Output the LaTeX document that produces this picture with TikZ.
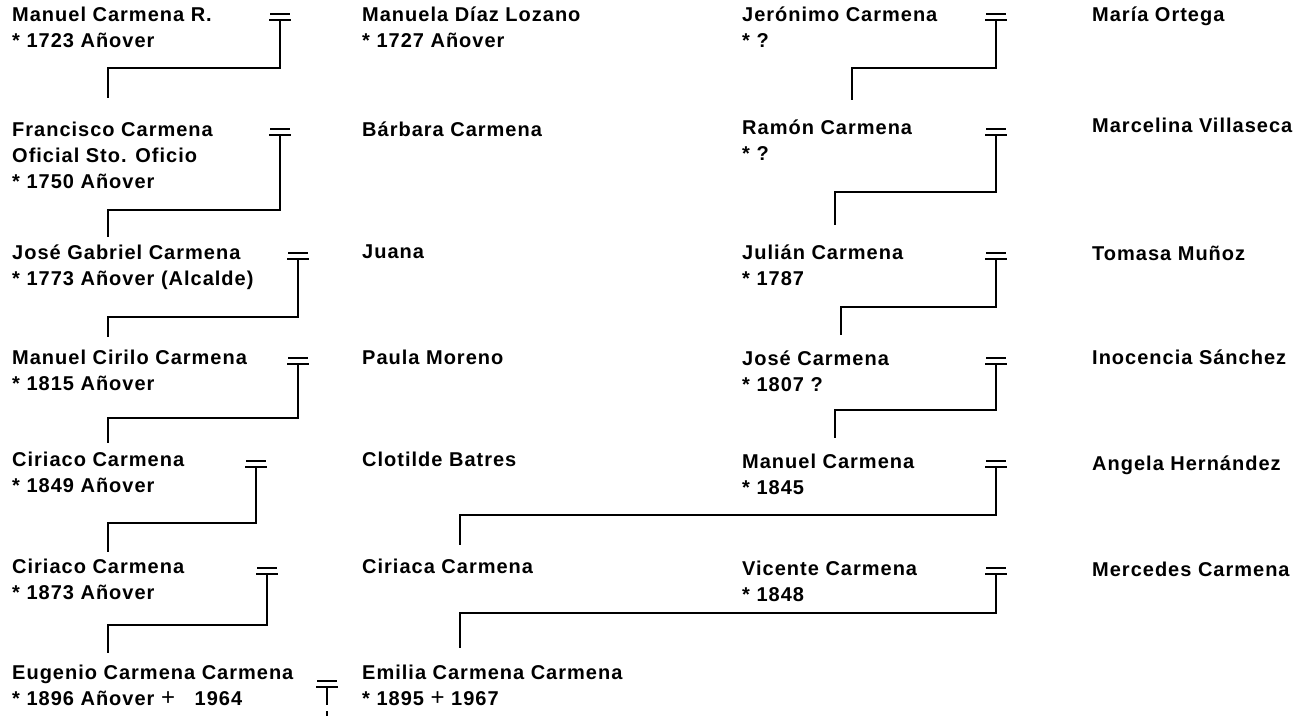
\documentclass[tikz,border=0pt]{standalone}
\usepackage{fontspec}
\setmainfont{Liberation Sans}[LetterSpace=5]
\begin{document}
\begin{tikzpicture}[x=1pt,y=-1pt]

    \tikzstyle{every node}=[font=\fontsize{20}{26}\selectfont\bfseries, anchor=north west, inner sep=0pt, align=left]
    \tikzstyle{kin}=[line width=1.8pt]
    \def\colA{12}
    \def\colB{362}
    \def\colC{742}
    \def\colD{1092}
    \def\cross{{\fontsize{24}{26}\selectfont\mdseries +}}
    \def\wed#1#2{\coordinate (#1) at (#2);
      \draw[kin] ([xshift=-10pt,yshift=6pt]#1) -- ([xshift=10pt,yshift=6pt]#1)
                 ([xshift=-11pt]#1) -- ([xshift=11pt]#1);}

    \useasboundingbox (0,0) rectangle (1304,716);

    % Carmena line, left
    \node (manuelR)   at (\colA,7)   {Manuel Carmena R.\\* 1723 Añover};
    \node (francisco) at (\colA,122) {Francisco Carmena\\Oficial Sto. Oficio\\* 1750 Añover};
    \node (joseG)     at (\colA,245) {José Gabriel Carmena\\* 1773 Añover (Alcalde)};
    \node (cirilo)    at (\colA,350) {Manuel Cirilo Carmena\\* 1815 Añover};
    \node (ciriacoA)  at (\colA,452) {Ciriaco Carmena\\* 1849 Añover};
    \node (ciriacoB)  at (\colA,559) {Ciriaco Carmena\\* 1873 Añover};
    \node (eugenio)   at (\colA,665) {Eugenio Carmena Carmena\\* 1896 Añover \cross\ \ \ 1964};

    \node (manuela)   at (\colB,7)   {Manuela Díaz Lozano\\* 1727 Añover};
    \node (barbara)   at (\colB,122) {Bárbara Carmena};
    \node (juana)     at (\colB,245) {Juana};
    \node (paula)     at (\colB,350) {Paula Moreno};
    \node (clotilde)  at (\colB,452) {Clotilde Batres};
    \node (ciriaca)   at (\colB,559) {Ciriaca Carmena};
    \node (emilia)    at (\colB,665) {Emilia Carmena Carmena\\* 1895 \cross\ 1967};

    % Carmena line, right
    \node (jeronimo)  at (\colC,7)   {Jerónimo Carmena\\* ?};
    \node (ramon)     at (\colC,120) {Ramón Carmena\\* ?};
    \node (julian)    at (\colC,245) {Julián Carmena\\* 1787};
    \node (joseC)     at (\colC,351) {José Carmena\\* 1807 ?};
    \node (manuelC)   at (\colC,454) {Manuel Carmena\\* 1845};
    \node (vicente)   at (\colC,561) {Vicente Carmena\\* 1848};

    \node (maria)     at (\colD,7)   {María Ortega};
    \node (marcelina) at (\colD,118) {Marcelina Villaseca};
    \node (tomasa)    at (\colD,246) {Tomasa Muñoz};
    \node (inocencia) at (\colD,350) {Inocencia Sánchez};
    \node (angela)    at (\colD,456) {Angela Hernández};
    \node (mercedes)  at (\colD,562) {Mercedes Carmena};

    % marriages and descent, left
    \wed{mL1}{280,20}
    \wed{mL2}{280,135}
    \wed{mL3}{298,259}
    \wed{mL4}{298,364}
    \wed{mL5}{256,467}
    \wed{mL6}{267,574}
    \wed{mL7}{327,687}

    \coordinate (jL1) at (108,68);   \coordinate (dL1) at (108,98);
    \coordinate (jL2) at (108,210);  \coordinate (dL2) at (108,237);
    \coordinate (jL3) at (108,317);  \coordinate (dL3) at (108,337);
    \coordinate (jL4) at (108,418);  \coordinate (dL4) at (108,443);
    \coordinate (jL5) at (108,523);  \coordinate (dL5) at (108,552);
    \coordinate (jL6) at (108,625);  \coordinate (dL6) at (108,653);
    \coordinate (eL7) at (327,705);  \coordinate (fL7) at (327,711);

    \draw[kin] (mL1) |- (jL1) -- (dL1);
    \draw[kin] (mL2) |- (jL2) -- (dL2);
    \draw[kin] (mL3) |- (jL3) -- (dL3);
    \draw[kin] (mL4) |- (jL4) -- (dL4);
    \draw[kin] (mL5) |- (jL5) -- (dL5);
    \draw[kin] (mL6) |- (jL6) -- (dL6);
    \draw[kin] (mL7) -- (eL7);
    \draw[kin] (fL7) -- ++(0,5);

    % marriages and descent, right
    \wed{mR1}{996,20}
    \wed{mR2}{996,135}
    \wed{mR3}{996,259}
    \wed{mR4}{996,364}
    \wed{mR5}{996,467}
    \wed{mR6}{996,574}

    \coordinate (jR1) at (852,68);   \coordinate (dR1) at (852,100);
    \coordinate (jR2) at (835,192);  \coordinate (dR2) at (835,225);
    \coordinate (jR3) at (841,307);  \coordinate (dR3) at (841,335);
    \coordinate (jR4) at (835,410);  \coordinate (dR4) at (835,438);
    \coordinate (jR5) at (460,515);  \coordinate (dR5) at (460,545);
    \coordinate (jR6) at (460,613);  \coordinate (dR6) at (460,648);

    \draw[kin] (mR1) |- (jR1) -- (dR1);
    \draw[kin] (mR2) |- (jR2) -- (dR2);
    \draw[kin] (mR3) |- (jR3) -- (dR3);
    \draw[kin] (mR4) |- (jR4) -- (dR4);
    \draw[kin] (mR5) |- (jR5) -- (dR5);
    \draw[kin] (mR6) |- (jR6) -- (dR6);
    %\draw[kin] (mL7) -- ++(0,30);
\end{tikzpicture}
\end{document}
